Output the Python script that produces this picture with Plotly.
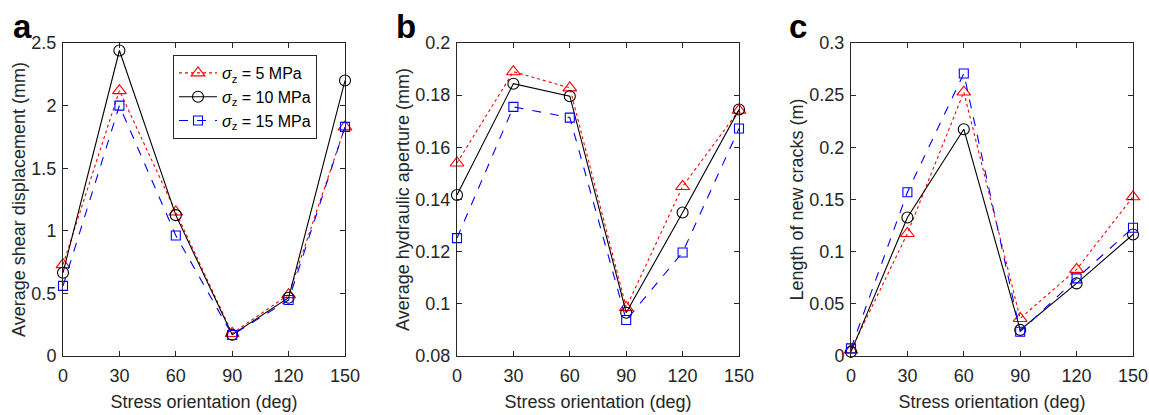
import plotly.graph_objects as go

angles = [0, 30, 60, 90, 120, 150]
series_names = ["<i>σ</i><sub>z</sub> = 5 MPa", "<i>σ</i><sub>z</sub> = 10 MPa", "<i>σ</i><sub>z</sub> = 15 MPa"]

shear_5 = [0.73, 2.12, 1.15, 0.18, 0.49, 1.83]
shear_10 = [0.665, 2.44, 1.125, 0.17, 0.465, 2.20]
shear_15 = [0.56, 2.00, 0.963, 0.168, 0.447, 1.83]

aper_5 = [0.154, 0.189, 0.1828, 0.0986, 0.145, 0.1742]
aper_10 = [0.1417, 0.1844, 0.1796, 0.0966, 0.135, 0.1745]
aper_15 = [0.1252, 0.1755, 0.1714, 0.0938, 0.1197, 0.1672]

crack_5 = [0.0057, 0.1174, 0.253, 0.036, 0.083, 0.1526]
crack_10 = [0.004, 0.1328, 0.2174, 0.025, 0.0696, 0.1165]
crack_15 = [0.0073, 0.157, 0.2707, 0.0233, 0.0744, 0.1229]

x_ticks = [0, 30, 60, 90, 120, 150]
a_ticks = [0, 0.5, 1, 1.5, 2, 2.5]
a_ticktext = ["0", "0.5", "1", "1.5", "2", "2.5"]
b_ticks = [0.08, 0.1, 0.12, 0.14, 0.16, 0.18, 0.2]
b_ticktext = ["0.08", "0.1", "0.12", "0.14", "0.16", "0.18", "0.2"]
c_ticks = [0, 0.05, 0.1, 0.15, 0.2, 0.25, 0.3]
c_ticktext = ["0", "0.05", "0.1", "0.15", "0.2", "0.25", "0.3"]

styles = [
    dict(color="#FF0000", dash="dot", symbol="triangle-up-open", size=12),
    dict(color="#000000", dash="solid", symbol="circle-open", size=11),
    dict(color="#0000FF", dash="dash", symbol="square-open", size=9),
]

W, H = 1149, 415


def fx(px):
    return px / W


def fy(py):
    return 1 - py / H


FONT = "Liberation Sans, Arial, sans-serif"
AX = "#262626"

fig = go.Figure()
panels = [
    ([shear_5, shear_10, shear_15], "x", "y"),
    ([aper_5, aper_10, aper_15], "x2", "y2"),
    ([crack_5, crack_10, crack_15], "x3", "y3"),
]
for pi, (data, xa, ya) in enumerate(panels):
    for si, vals in enumerate(data):
        st = styles[si]
        fig.add_trace(go.Scatter(
            x=angles, y=vals, mode="lines+markers", xaxis=xa, yaxis=ya,
            name=series_names[si], showlegend=(pi == 0), cliponaxis=False,
            line=dict(color=st["color"], dash=st["dash"], width=1.1),
            marker=dict(symbol=st["symbol"], size=st["size"], color=st["color"],
                        line=dict(color=st["color"], width=1.1)),
        ))

xdoms = [(fx(63), fx(345)), (fx(457), fx(739)), (fx(851), fx(1133))]
ydom = (fy(356), fy(43))
ytitles = ["Average shear displacement (mm)", "Average hydraulic aperture (mm)", "Length of new cracks (m)"]
yranges = [[0, 2.5], [0.08, 0.2], [0, 0.3]]
yticks = [(a_ticks, a_ticktext), (b_ticks, b_ticktext), (c_ticks, c_ticktext)]

common = dict(showline=True, linecolor=AX, linewidth=1, mirror="ticks", ticks="inside",
              ticklen=5, tickcolor=AX, showgrid=False, zeroline=False, automargin=False,
              tickfont=dict(family=FONT, size=18, color=AX))
layout = {}
for i in range(3):
    sx = "" if i == 0 else str(i + 1)
    layout["xaxis" + sx] = dict(common, domain=list(xdoms[i]), range=[0, 150], tickvals=x_ticks,
                                anchor="y" + sx, ticklabelstandoff=3,
                                title=dict(text="Stress orientation (deg)", standoff=10,
                                           font=dict(family=FONT, size=18, color=AX)))
    layout["yaxis" + sx] = dict(common, domain=list(ydom), range=yranges[i],
                                tickvals=yticks[i][0], ticktext=yticks[i][1], anchor="x" + sx,
                                ticklabelstandoff=2,
                                title=dict(text=ytitles[i], standoff=1,
                                           font=dict(family=FONT, size=18, color=AX)))
fig.update_layout(**layout)

for lab, xp in zip(["a", "b", "c"], [11, 394, 787]):
    fig.add_annotation(text="<b>%s</b>" % lab, x=fx(xp), y=fy(6), xref="paper", yref="paper",
                       xanchor="left", yanchor="top", showarrow=False,
                       font=dict(family=FONT, size=33, color="#000000"))

fig.update_layout(
    template="none",
    width=W, height=H, margin=dict(l=0, r=0, t=0, b=0),
    paper_bgcolor="white", plot_bgcolor="white",
    hovermode=False,
    legend=dict(x=fx(173), y=fy(55), xanchor="left", yanchor="top",
                bordercolor=AX, borderwidth=1, bgcolor="white",
                font=dict(family=FONT, size=16, color="#000000"),
                tracegroupgap=0, itemwidth=38),
)
fig.write_html("out.html", config={"displayModeBar": False, "staticPlot": True},
               post_script="document.body.style.margin='0';document.body.style.overflow='hidden';")
